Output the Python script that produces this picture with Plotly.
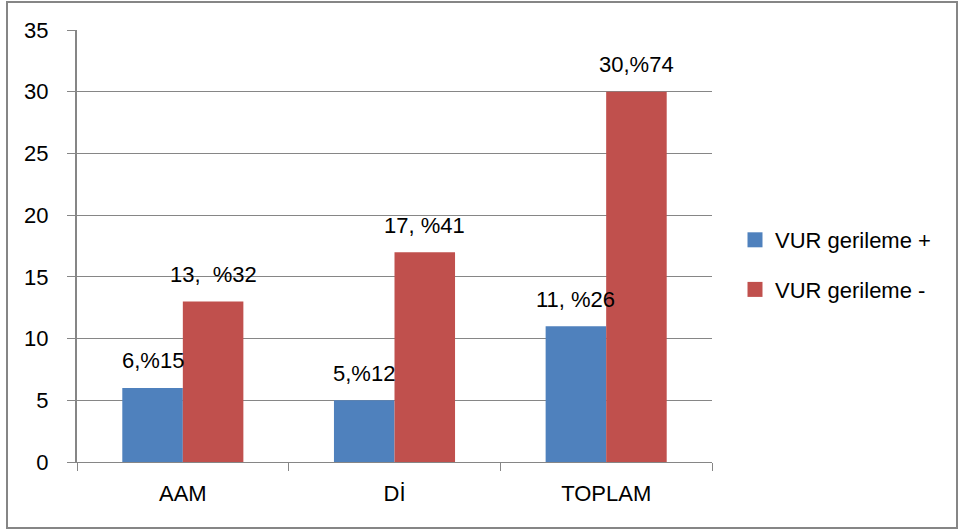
import plotly.graph_objects as go

categories = ["AAM", "Dİ", "TOPLAM"]
series_names = ["VUR gerileme +", "VUR gerileme -"]
series_colors = ["#4F81BD", "#C0504D"]
pos_values = [6, 5, 11]
neg_values = [13, 17, 30]
pos_labels = ["6,%15", "5,%12", "11, %26"]
neg_labels = ["13,  %32", "17, %41", "30,%74"]
y_ticks = [0, 5, 10, 15, 20, 25, 30, 35]

W, H = 960, 531
L, R, T, B = 77, 248, 30, 69
pw, ph = W - L - R, H - T - B
FONT = "Liberation Sans, Arial, sans-serif"
GRAY = "#868686"

fig = go.Figure()
for vals, name, col in [(pos_values, series_names[0], series_colors[0]),
                        (neg_values, series_names[1], series_colors[1])]:
    fig.add_trace(go.Bar(x=categories, y=vals, name=name, marker_color=col,
                         marker_line_width=0, showlegend=False))

# legend-only entries with larger square symbols
for i, (name, col) in enumerate(zip(series_names, series_colors)):
    fig.add_trace(go.Scatter(x=[None], y=[None], mode="markers", name=name,
                             legendgroup=f"g{i}",
                             marker=dict(symbol="square", size=15, color=col)))

# data labels above bars
bar_px = 60.5
for vals, labels, shift in [(pos_values, pos_labels, -bar_px / 2),
                            (neg_values, neg_labels, bar_px / 2)]:
    for c, v, t in zip(categories, vals, labels):
        fig.add_annotation(x=c, y=v, xref="x", yref="y", text=t, showarrow=False,
                           xshift=shift, yshift=27, yanchor="middle", xanchor="center",
                           font=dict(family=FONT, size=22, color="#000000"))

def px_x(x):
    return (x - L) / pw

def px_y(y):
    return (H - B - y) / ph

fig.add_shape(type="rect", xref="paper", yref="paper",
              x0=px_x(7), x1=px_x(957), y0=px_y(528), y1=px_y(2),
              line=dict(color=GRAY, width=2), fillcolor="rgba(0,0,0,0)", layer="below")

fig.update_layout(
    width=W, height=H,
    margin=dict(l=L, r=R, t=T, b=B),
    paper_bgcolor="white", plot_bgcolor="white",
    barmode="group", bargap=0.428, bargroupgap=0,
    font=dict(family=FONT, color="#000000"),
    legend=dict(x=px_x(735), y=px_y(265), xanchor="left", yanchor="middle",
                font=dict(size=22, family=FONT), traceorder="grouped", tracegroupgap=18,
                bgcolor="rgba(0,0,0,0)"),
    showlegend=True,
    xaxis=dict(showline=True, linecolor=GRAY, linewidth=1, ticks="outside",
               tickson="boundaries", ticklen=8, tickcolor=GRAY, tickwidth=1,
               ticklabelstandoff=12,
               tickfont=dict(size=22, family=FONT), showgrid=False),
    yaxis=dict(range=[0, 35], tickvals=y_ticks, showline=True, linecolor=GRAY, linewidth=2,
               ticks="outside", ticklen=8, tickcolor=GRAY, tickwidth=1,
               ticklabelstandoff=14, tickfont=dict(size=22, family=FONT),
               showgrid=True, gridcolor=GRAY, gridwidth=1, zeroline=False),
)

fig.write_html("out.html")
